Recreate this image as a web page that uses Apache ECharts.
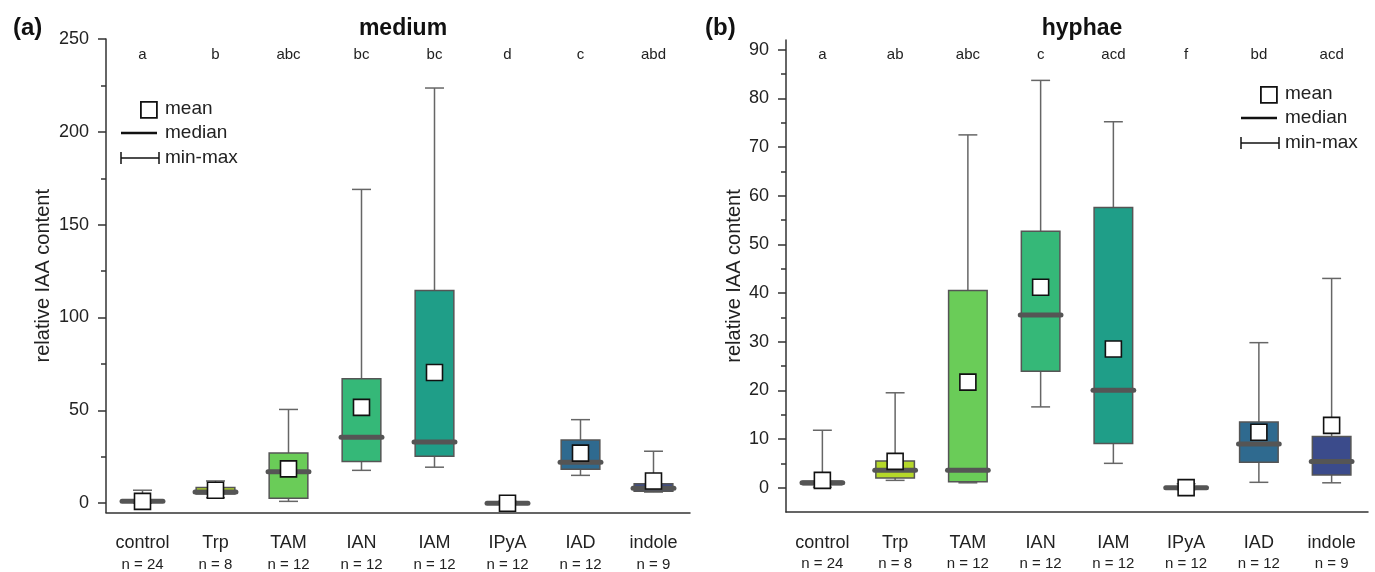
<!DOCTYPE html>
<html>
<head>
<meta charset="utf-8">
<title>relative IAA content</title>
<script src="https://cdn.jsdelivr.net/npm/echarts@6/dist/echarts.min.js"></script>
<style>
  html, body { margin: 0; padding: 0; background: #fff; }
  #main { width: 1375px; height: 572px; }
</style>
</head>
<body>
<div id="main"></div>
<script>
var categories = ['control', 'Trp', 'TAM', 'IAN', 'IAM', 'IPyA', 'IAD', 'indole'];
var nCounts = [24, 8, 12, 12, 12, 12, 12, 9];

// (a) medium
var mediumLetters = ['a', 'b', 'abc', 'bc', 'bc', 'd', 'c', 'abd'];
var mediumMin = [0, 3, 1, 17.7, 19.4, -0.5, 15, 6];
var mediumQ1 = [0.5, 5, 2.7, 22.5, 25.3, -0.2, 18.3, 6.5];
var mediumMedian = [1, 6, 17, 35.5, 33, 0, 22, 8];
var mediumQ3 = [1.5, 8.5, 27, 67, 114.5, 0.3, 34, 10.5];
var mediumMax = [7, 12, 50.5, 169, 223.6, 1, 45, 28];
var mediumMean = [1, 7, 18.5, 51.6, 70.4, 0, 27, 12];
var mediumTicks = [0, 50, 100, 150, 200, 250];
var mediumMinorTicks = [25, 75, 125, 175, 225];

// (b) hyphae
var hyphaeLetters = ['a', 'ab', 'abc', 'c', 'acd', 'f', 'bd', 'acd'];
var hyphaeMin = [0.1, 1.5, 1, 16.6, 5, -0.4, 1.1, 1];
var hyphaeQ1 = [0.6, 2, 1.2, 23.9, 9.1, -0.2, 5.2, 2.6];
var hyphaeMedian = [1, 3.6, 3.6, 35.5, 20, 0, 9, 5.4];
var hyphaeQ3 = [1.3, 5.5, 40.5, 52.7, 57.6, 0.2, 13.5, 10.5];
var hyphaeMax = [11.8, 19.5, 72.5, 83.7, 75.2, 0.8, 29.8, 43];
var hyphaeMean = [1.5, 5.4, 21.7, 41.2, 28.5, 0, 11.4, 12.8];
var hyphaeTicks = [0, 10, 20, 30, 40, 50, 60, 70, 80, 90];
var hyphaeMinorTicks = [5, 15, 25, 35, 45, 55, 65, 75, 85];

var boxColors = ['#8c8c8c', '#b5d82a', '#6acc58', '#35b878', '#1f9e88', '#2a8590', '#2f6a8f', '#3b4b8b'];

var FONT = 'Liberation Sans, Arial, sans-serif';

function boxRows(mn, q1, md, q3, mx) {
  return categories.map(function (c, i) { return [i, mn[i], q1[i], md[i], q3[i], mx[i]]; });
}
function meanRows(m) {
  return categories.map(function (c, i) { return [i, m[i]]; });
}

function renderBox(params, api) {
  var x = api.value(0);
  var lo = api.coord([x, api.value(1)]);
  var q1 = api.coord([x, api.value(2)]);
  var md = api.coord([x, api.value(3)]);
  var q3 = api.coord([x, api.value(4)]);
  var hi = api.coord([x, api.value(5)]);
  var bw = api.size([1, 0])[0];
  var cx = hi[0];
  var boxW = bw * 0.53, capW = bw * 0.26, medW = bw * 0.56;
  var wStyle = { stroke: '#666', lineWidth: 1.5 };
  return {
    type: 'group',
    children: [
      { type: 'line', shape: { x1: cx, y1: hi[1], x2: cx, y2: lo[1] }, style: wStyle },
      { type: 'line', shape: { x1: cx - capW / 2, y1: hi[1], x2: cx + capW / 2, y2: hi[1] }, style: wStyle },
      { type: 'line', shape: { x1: cx - capW / 2, y1: lo[1], x2: cx + capW / 2, y2: lo[1] }, style: wStyle },
      { type: 'rect', shape: { x: cx - boxW / 2, y: q3[1], width: boxW, height: q1[1] - q3[1] },
        style: { fill: boxColors[params.dataIndex], stroke: '#555', lineWidth: 1.5 } },
      { type: 'line', shape: { x1: cx - medW / 2, y1: md[1], x2: cx + medW / 2, y2: md[1] },
        style: { stroke: '#555', lineWidth: 5, lineCap: 'round' } }
    ]
  };
}

function bottomAxis(grid) {
  return {
    type: 'category', gridIndex: grid, data: categories,
    axisLine: { onZero: false, lineStyle: { color: '#333', width: 1.5 } },
    axisTick: { length: 8, lineStyle: { color: '#333', width: 1.5 } },
    axisLabel: {
      margin: 20, interval: 0,
      formatter: function (v, i) { return '{c|' + v + '}\n{n|n = ' + nCounts[i] + '}'; },
      rich: {
        c: { fontSize: 18, color: '#222', fontFamily: FONT, lineHeight: 22 },
        n: { fontSize: 15, color: '#222', fontFamily: FONT, lineHeight: 20 }
      }
    }
  };
}
function topAxis(grid, letters, off) {
  return {
    type: 'category', gridIndex: grid, position: 'top', offset: off, data: letters,
    axisLine: { show: false }, axisTick: { show: false },
    axisLabel: { margin: 0, interval: 0, fontSize: 15, color: '#222', fontFamily: FONT }
  };
}
function majorAxis(grid, mx, ticks, gap) {
  return {
    type: 'value', gridIndex: grid, min: -5, max: mx,
    name: 'relative IAA content', nameLocation: 'middle', nameGap: gap,
    nameTextStyle: { fontSize: 20, color: '#222', fontFamily: FONT },
    splitLine: { show: false },
    axisLine: { show: true, lineStyle: { color: '#333', width: 1.5 } },
    axisTick: { show: true, length: 8, customValues: ticks, lineStyle: { color: '#333', width: 1.5 } },
    axisLabel: { customValues: ticks, fontSize: 18, color: '#222', fontFamily: FONT, margin: 17 }
  };
}
function minorAxis(grid, mx, ticks) {
  return {
    type: 'value', gridIndex: grid, min: -5, max: mx, position: 'left',
    splitLine: { show: false },
    axisLine: { show: false },
    axisTick: { show: true, length: 5, customValues: ticks, lineStyle: { color: '#333', width: 1.5 } },
    axisLabel: { show: false, customValues: ticks }
  };
}

function legend(x, y) {
  var t = { fontSize: 19, fill: '#222', fontFamily: FONT };
  return [
    { type: 'rect', left: x + 19, top: y - 7, shape: { width: 16, height: 16 },
      style: { fill: '#fff', stroke: '#111', lineWidth: 1.8 } },
    { type: 'text', left: x + 44, top: y - 9, style: Object.assign({ text: 'mean' }, t) },
    { type: 'line', shape: { x1: x, y1: y + 25, x2: x + 36, y2: y + 25 }, style: { stroke: '#111', lineWidth: 2.5 } },
    { type: 'text', left: x + 44, top: y + 15, style: Object.assign({ text: 'median' }, t) },
    { type: 'line', shape: { x1: x, y1: y + 50, x2: x + 38, y2: y + 50 }, style: { stroke: '#111', lineWidth: 1.5 } },
    { type: 'line', shape: { x1: x, y1: y + 44, x2: x, y2: y + 56 }, style: { stroke: '#111', lineWidth: 1.5 } },
    { type: 'line', shape: { x1: x + 38, y1: y + 44, x2: x + 38, y2: y + 56 }, style: { stroke: '#111', lineWidth: 1.5 } },
    { type: 'text', left: x + 44, top: y + 40, style: Object.assign({ text: 'min-max' }, t) }
  ];
}

var chart = echarts.init(document.getElementById('main'));
var option = {
  animation: false,
  backgroundColor: '#fff',
  title: [
    { text: 'medium', left: 398, top: 12, textAlign: 'center',
      textStyle: { fontSize: 23, fontWeight: 'bold', color: '#111', fontFamily: FONT } },
    { text: 'hyphae', left: 1077, top: 12, textAlign: 'center',
      textStyle: { fontSize: 23, fontWeight: 'bold', color: '#111', fontFamily: FONT } },
    { text: '(a)', left: 8, top: 11, textStyle: { fontSize: 24, fontWeight: 'bold', color: '#111', fontFamily: FONT } },
    { text: '(b)', left: 700, top: 11, textStyle: { fontSize: 24, fontWeight: 'bold', color: '#111', fontFamily: FONT } }
  ],
  grid: [
    { left: 106, right: 685, top: 39, bottom: 59 },
    { left: 786, right: 7, top: 40, bottom: 60 }
  ],
  xAxis: [
    bottomAxis(0),
    bottomAxis(1),
    topAxis(0, mediumLetters, -23),
    topAxis(1, hyphaeLetters, -22)
  ],
  yAxis: [
    majorAxis(0, 250, mediumTicks, 53),
    minorAxis(0, 250, mediumMinorTicks),
    majorAxis(1, 92, hyphaeTicks, 42),
    minorAxis(1, 92, hyphaeMinorTicks)
  ],
  series: [
    { type: 'custom', xAxisIndex: 0, yAxisIndex: 0, renderItem: renderBox,
      encode: { x: 0, y: [1, 2, 3, 4, 5] }, data: boxRows(mediumMin, mediumQ1, mediumMedian, mediumQ3, mediumMax), z: 2 },
    { type: 'scatter', xAxisIndex: 0, yAxisIndex: 0, symbol: 'rect', symbolSize: 16,
      itemStyle: { color: '#fff', borderColor: '#111', borderWidth: 1.6, opacity: 1 },
      data: meanRows(mediumMean), z: 3 },
    { type: 'custom', xAxisIndex: 1, yAxisIndex: 2, renderItem: renderBox,
      encode: { x: 0, y: [1, 2, 3, 4, 5] }, data: boxRows(hyphaeMin, hyphaeQ1, hyphaeMedian, hyphaeQ3, hyphaeMax), z: 2 },
    { type: 'scatter', xAxisIndex: 1, yAxisIndex: 2, symbol: 'rect', symbolSize: 16,
      itemStyle: { color: '#fff', borderColor: '#111', borderWidth: 1.6, opacity: 1 },
      data: meanRows(hyphaeMean), z: 3 }
  ],
  graphic: legend(121, 108).concat(legend(1241, 93))
};
chart.setOption(option);
</script>
</body>
</html>
